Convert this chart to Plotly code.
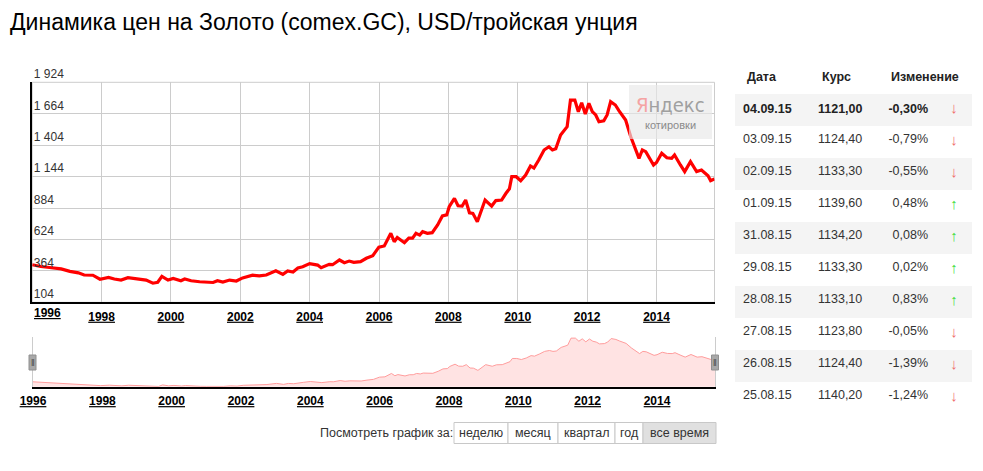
import plotly.graph_objects as go

# --- данные графика (по картинке, примерно) ---
price_dates = [
    "1996-01-01", "1996-04-01", "1996-07-01", "1996-11-01", "1997-02-01", "1997-05-01",
    "1997-07-01", "1997-10-01", "1997-12-15", "1998-03-15", "1998-05-15", "1998-07-25",
    "1998-10-05", "1999-01-01", "1999-04-15", "1999-06-25", "1999-08-15", "1999-09-28",
    "1999-12-01", "2000-01-25", "2000-04-15", "2000-05-25", "2000-08-01", "2000-10-30",
    "2001-01-01", "2001-03-20", "2001-05-05", "2001-07-01", "2001-09-10", "2001-11-20",
    "2002-01-25", "2002-05-10", "2002-07-20", "2002-10-01", "2003-01-10", "2003-03-25",
    "2003-05-15", "2003-07-10", "2003-08-30", "2003-10-20", "2004-01-01", "2004-03-25",
    "2004-05-01", "2004-07-25", "2004-08-30", "2004-11-10", "2005-01-01", "2005-02-20",
    "2005-04-10", "2005-06-20", "2005-08-20", "2005-10-27", "2005-12-30", "2006-02-25",
    "2006-05-05", "2006-06-10", "2006-07-12", "2006-09-25", "2006-11-10", "2006-12-20",
    "2007-01-25", "2007-03-05", "2007-04-05", "2007-05-25", "2007-07-15", "2007-09-10",
    "2007-10-30", "2007-12-15", "2008-01-10", "2008-03-05", "2008-04-12", "2008-05-25",
    "2008-07-01", "2008-08-10", "2008-09-15", "2008-11-01", "2009-01-22", "2009-04-01",
    "2009-05-15", "2009-07-15", "2009-08-30", "2009-10-05", "2009-10-30", "2009-12-15",
    "2010-02-01", "2010-03-25", "2010-05-15", "2010-06-20", "2010-08-10", "2010-10-05",
    "2010-11-25", "2011-01-01", "2011-02-05", "2011-03-28", "2011-06-05", "2011-07-10",
    "2011-08-25", "2011-10-01", "2011-11-05", "2011-12-13", "2012-01-20", "2012-02-25",
    "2012-04-01", "2012-05-05", "2012-06-25", "2012-07-30", "2012-09-05", "2012-10-25",
    "2012-12-01", "2013-02-10", "2013-04-05", "2013-07-01", "2013-08-05", "2013-09-10",
    "2013-12-01", "2014-01-01", "2014-02-25", "2014-04-20", "2014-06-10", "2014-07-10",
    "2014-09-10", "2014-10-25", "2014-12-25", "2015-02-28", "2015-04-20", "2015-06-28",
    "2015-07-25", "2015-09-04",
]
price_values = [
    415, 400, 392, 380, 360, 348,
    330, 328, 295, 310, 297, 288,
    308, 297, 288, 262, 270, 318,
    288, 302, 282, 297, 282, 274,
    272, 268, 282, 271, 288, 280,
    306, 328, 322, 330, 365, 335,
    364, 355, 388, 398, 424, 412,
    390, 418, 415, 454, 432, 445,
    434, 440, 468, 490, 560, 570,
    675, 605, 640, 597, 635, 635,
    675, 660, 688, 675, 680, 744,
    818, 827, 895, 964, 903, 900,
    950, 845, 840, 771, 950, 900,
    945, 950, 1006, 1043, 1143, 1143,
    1110, 1157, 1232, 1215, 1281, 1364,
    1391, 1364, 1375, 1488, 1557, 1777,
    1777, 1681, 1755, 1662, 1750, 1681,
    1654, 1598, 1606, 1654, 1764, 1736,
    1689, 1612, 1474, 1295, 1364, 1350,
    1240, 1260, 1337, 1300, 1295, 1323,
    1240, 1185, 1267, 1185, 1198, 1150,
    1110, 1125,
]

y_ticks = [104, 364, 624, 884, 1144, 1404, 1664, 1924]
year_labels = ["1996", "1998", "2000", "2002", "2004", "2006", "2008", "2010", "2012", "2014"]

# таблица последних котировок
tbl_dates = ["04.09.15", "03.09.15", "02.09.15", "01.09.15", "31.08.15",
             "29.08.15", "28.08.15", "27.08.15", "26.08.15", "25.08.15"]
tbl_rates = [1121.00, 1124.40, 1133.30, 1139.60, 1134.20,
             1133.30, 1133.10, 1123.80, 1124.40, 1140.20]
tbl_changes = [-0.30, -0.79, -0.55, 0.48, 0.08, 0.02, 0.83, -0.05, -1.39, -1.24]

period_buttons = ["неделю", "месяц", "квартал", "год", "все время"]

# страница имеет отступ body 8px, поэтому фигура чуть меньше окна
OFF = 8
W, H = 975, 463
FONT = "Arial, Liberation Sans, sans-serif"


def px_x(p):
    return (p - OFF) / W


def px_y(p):
    return 1 - (p - OFF) / H


tick_dates = [f"{y}-01-01" for y in year_labels]
main_ticktext = [""] + year_labels[1:]

fig = go.Figure()

# основной график
fig.add_trace(go.Scatter(x=price_dates, y=price_values, mode="lines",
                         line=dict(color="#ff0000", width=3.2),
                         xaxis="x", yaxis="y", hoverinfo="x+y", showlegend=False))

# навигатор внизу
fig.add_trace(go.Scatter(x=price_dates, y=price_values, mode="lines",
                         line=dict(color="#ff9c9c", width=1),
                         fill="tozeroy", fillcolor="#ffe3e3",
                         xaxis="x2", yaxis="y2", hoverinfo="skip", showlegend=False))


# таблица
def fmt_num(v):
    return f"{v:.2f}".replace(".", ",")


col_date, col_rate, col_chg, col_arr, arr_colors = [], [], [], [], []
for i, (d, r, c) in enumerate(zip(tbl_dates, tbl_rates, tbl_changes)):
    chg = fmt_num(c) + "%"
    rate = fmt_num(r)
    if i == 0:
        d, rate, chg = f"<b>{d}</b>", f"<b>{rate}</b>", f"<b>{chg}</b>"
    col_date.append(d)
    col_rate.append(rate)
    col_chg.append(chg)
    col_arr.append("↓" if c < 0 else "↑")
    arr_colors.append("#f07070" if c < 0 else "#44dd44")

n_rows = len(tbl_dates)
row_fill = ["#f4f4f4" if i % 2 == 0 else "#ffffff" for i in range(n_rows)]
txt_colors = ["#222222"] + ["#333333"] * (n_rows - 1)

fig.add_trace(go.Table(
    domain=dict(x=[px_x(735), px_x(972)], y=[px_y(462), px_y(62)]),
    columnwidth=[75, 60, 66, 36],
    header=dict(values=["", "", "", ""], height=32,
                fill=dict(color="#ffffff"),
                line=dict(color="rgba(0,0,0,0)", width=0)),
    cells=dict(values=[col_date, col_rate, col_chg, col_arr],
               align=["left", "left", "right", "center"],
               height=32,
               fill=dict(color=[row_fill] * 4),
               line=dict(color="rgba(0,0,0,0)", width=0),
               font=dict(family=FONT, size=[12.5, 12.5, 12.5, 15],
                         color=[txt_colors, txt_colors, txt_colors, arr_colors])),
))

tick_font = dict(family=FONT, size=12, color="#000000", weight="bold", lineposition="under")

fig.update_layout(
    width=W, height=H, autosize=False,
    template="none",
    margin=dict(l=0, r=0, t=0, b=0, pad=0),
    paper_bgcolor="white", plot_bgcolor="white",
    separators=", ",
    font=dict(family=FONT, size=12, color="#333333"),
    xaxis=dict(domain=[px_x(32.2), px_x(714.5)], type="date",
               range=[price_dates[0], price_dates[-1]],
               tickvals=tick_dates, ticktext=main_ticktext,
               showgrid=True, gridcolor="#cccccc", gridwidth=1,
               showline=True, linecolor="#000000", linewidth=2,
               ticks="", tickfont=tick_font, ticklabelstandoff=2,
               zeroline=False, fixedrange=True, automargin=False),
    yaxis=dict(domain=[px_y(302.3), px_y(82.3)],
               range=[y_ticks[0], y_ticks[-1]], tickvals=y_ticks,
               tickformat=",.0f",
               ticklabelposition="inside top", ticklabeloverflow="allow",
               tickfont=dict(family=FONT, size=12, color="#333333"),
               showgrid=True, gridcolor="#cccccc", gridwidth=1,
               showline=True, linecolor="#000000", linewidth=2,
               ticks="", zeroline=False, fixedrange=True, automargin=False),
    xaxis2=dict(domain=[px_x(33), px_x(715)], type="date",
                range=[price_dates[0], price_dates[-1]],
                tickvals=tick_dates, ticktext=year_labels,
                showgrid=False, showline=True, linecolor="#000000", linewidth=2,
                ticks="", tickfont=tick_font, ticklabelstandoff=2,
                zeroline=False, fixedrange=True, anchor="y2", automargin=False),
    yaxis2=dict(domain=[px_y(386.7), px_y(337)],
                range=[min(price_values), max(price_values) * 1.02],
                showgrid=False, showticklabels=False, ticks="",
                showline=True, linecolor="#cccccc", linewidth=1, mirror=True,
                zeroline=False, fixedrange=True, anchor="x2", automargin=False),
)

shapes = []
annotations = []

# серая рамка вокруг основного графика
shapes.append(dict(type="rect", xref="paper", yref="paper",
                   x0=px_x(32.2), x1=px_x(714.5), y0=px_y(302.3), y1=px_y(82.3),
                   line=dict(color="#cccccc", width=1), layer="below"))

# подпись 1996 у левого края
annotations.append(dict(text="1996", x=price_dates[0], xref="x", y=px_y(313), yref="paper",
                        xanchor="left", yanchor="middle", xshift=0, showarrow=False,
                        font=tick_font))

# заголовок
annotations.append(dict(text="Динамика цен на Золото (comex.GC), USD/тройская унция",
                        x=px_x(8), y=px_y(22), xref="paper", yref="paper",
                        xanchor="left", yanchor="middle", showarrow=False,
                        font=dict(family=FONT, size=23, color="#000000")))

# логотип Яндекс.Котировки
shapes.append(dict(type="rect", xref="paper", yref="paper",
                   x0=px_x(629), x1=px_x(712), y0=px_y(139), y1=px_y(85),
                   fillcolor="rgba(232,232,232,0.65)", line=dict(width=0)))
annotations.append(dict(text="<span style='color:#f5a3a3'>Я</span>ндекс",
                        x=px_x(670), y=px_y(105), xref="paper", yref="paper",
                        xanchor="center", yanchor="middle", showarrow=False,
                        font=dict(family="DejaVu Sans Condensed, " + FONT,
                                  size=20, color="#a0a0a0")))
annotations.append(dict(text="котировки", x=px_x(670), y=px_y(125), xref="paper", yref="paper",
                        xanchor="center", yanchor="middle", showarrow=False,
                        font=dict(family=FONT, size=11, color="#8a8a8a")))

# заголовок таблицы
hdr_font = dict(family=FONT, size=12.5, color="#222222", weight="bold")
for txt, x, anchor in [("Дата", 745, "left"), ("Курс", 820, "left"), ("Изменение", 961, "right")]:
    annotations.append(dict(text=txt, x=px_x(x), y=px_y(77), xref="paper", yref="paper",
                            xanchor=anchor, yanchor="middle", showarrow=False, font=hdr_font))

# ручки навигатора
for cx in (32.5, 715):
    shapes.append(dict(type="rect", xref="paper", yref="paper",
                       x0=px_x(cx - 3.5), x1=px_x(cx + 3.5), y0=px_y(370), y1=px_y(355),
                       fillcolor="#a8a8a8", line=dict(color="#909090", width=1)))
    annotations.append(dict(text="ǁ", x=px_x(cx), y=px_y(362.5), xref="paper", yref="paper",
                            xanchor="center", yanchor="middle", showarrow=False,
                            font=dict(family=FONT, size=9, color="#444444")))

# кнопки периода
btn_edges = [454, 508, 558, 615, 643, 716]
annotations.append(dict(text="Посмотреть график за:", x=px_x(455), y=px_y(433),
                        xref="paper", yref="paper", xanchor="right", yanchor="middle",
                        showarrow=False, font=dict(family=FONT, size=12.5, color="#333333")))
for i, label in enumerate(period_buttons):
    x0, x1 = btn_edges[i], btn_edges[i + 1]
    active = i == len(period_buttons) - 1
    shapes.append(dict(type="rect", xref="paper", yref="paper",
                       x0=px_x(x0), x1=px_x(x1), y0=px_y(443.5), y1=px_y(422.5),
                       fillcolor="#e0e0e0" if active else "#ffffff",
                       line=dict(color="#c8c8c8", width=1)))
    annotations.append(dict(text=label, x=px_x((x0 + x1) / 2), y=px_y(433),
                            xref="paper", yref="paper", xanchor="center", yanchor="middle",
                            showarrow=False, font=dict(family=FONT, size=12.5, color="#333333")))

fig.update_layout(shapes=shapes, annotations=annotations)

fig.write_html("out.html")
